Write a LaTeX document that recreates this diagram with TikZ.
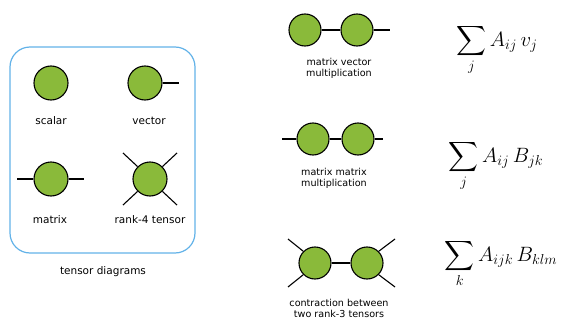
\documentclass[tikz,border=0pt]{standalone}
\usepackage{exscale}
\usepackage{fontspec}
\setmainfont{DejaVu Sans}
\begin{document}
\begin{tikzpicture}[x=1pt,y=-1pt,
  tensor/.style={circle,draw=black,line width=1.1pt,fill=tgreen,minimum size=32pt,inner sep=0pt},
  bigtensor/.style={tensor,minimum size=34pt},
  leg/.style={draw=black,line width=1.1pt},
  lbl/.style={font=\fontsize{10.5}{12}\selectfont,anchor=base},
  caption/.style={font=\fontsize{9.6}{11}\selectfont,align=center},
  formula/.style={font=\fontsize{20.74}{25}\selectfont,anchor=base}]
\definecolor{tgreen}{RGB}{138,186,58}
\definecolor{tblue}{RGB}{98,178,232}
\useasboundingbox (0,0) rectangle (566,324);

% legend box
\draw[tblue,line width=1.2pt,rounded corners=20pt] (10,47) rectangle (195,253);
\node[bigtensor] (sc) at (51,83) {};
\node[lbl] (scl) at (51,124) {scalar};
\node[bigtensor] (ve) at (145,83) {};
\coordinate (vee) at (179,83);
\draw[leg] (ve) -- (vee);
\node[lbl] (vel) at (149,124) {vector};
\node[bigtensor] (ma) at (51,179) {};
\coordinate (maw) at (17,179);
\coordinate (mae) at (84,179);
\draw[leg] (maw) -- (ma) -- (mae);
\node[lbl] (mal) at (50,223) {matrix};
\node[bigtensor] (ra) at (150,179) {};
\coordinate (ra1) at (123,153);
\coordinate (ra2) at (177,153);
\coordinate (ra3) at (123,205);
\coordinate (ra4) at (177,205);
\draw[leg] (ra1) -- (ra.north west) (ra2) -- (ra.north east)
  (ra3) -- (ra.south west) (ra4) -- (ra.south east);
\node[lbl] (ral) at (150,223) {rank-4 tensor};
\node[lbl] (boxl) at (103,274) {tensor diagrams};

% matrix vector multiplication
\node[tensor] (a1) at (305,30) {};
\node[tensor] (b1) at (357,30) {};
\coordinate (b1e) at (390,30);
\draw[leg] (a1) -- (b1) -- (b1e);
\node[caption] (c1) at (339,68) {matrix vector\\multiplication};
\node[formula] (f1) at (497,46) {$\displaystyle\sum_j A_{ij}\,v_j$};

% matrix matrix multiplication
\node[tensor] (a2) at (313,139) {};
\node[tensor] (b2) at (358,139) {};
\coordinate (a2w) at (282,139);
\coordinate (b2e) at (383,139);
\draw[leg] (a2w) -- (a2) -- (b2) -- (b2e);
\node[caption] (c2) at (334,178) {matrix matrix\\multiplication};
\node[formula] (f2) at (496,162) {$\displaystyle\sum_j A_{ij}\,B_{jk}$};

% contraction of two rank-3 tensors
\node[tensor] (a3) at (315,263) {};
\node[tensor] (b3) at (367,263) {};
\coordinate (a3u) at (288,239);
\coordinate (a3d) at (288,287);
\coordinate (b3u) at (395,239);
\coordinate (b3d) at (395,287);
\draw[leg] (a3) -- (b3);
\draw[leg] (a3u) -- (a3.north west) (a3d) -- (a3.south west)
  (b3u) -- (b3.north east) (b3d) -- (b3.south east);
\node[caption] (c3) at (339,308) {contraction between\\two rank-3 tensors};
\node[formula] (f3) at (501,261) {$\displaystyle\sum_k A_{ijk}\,B_{klm}$};
\end{tikzpicture}
\end{document}
